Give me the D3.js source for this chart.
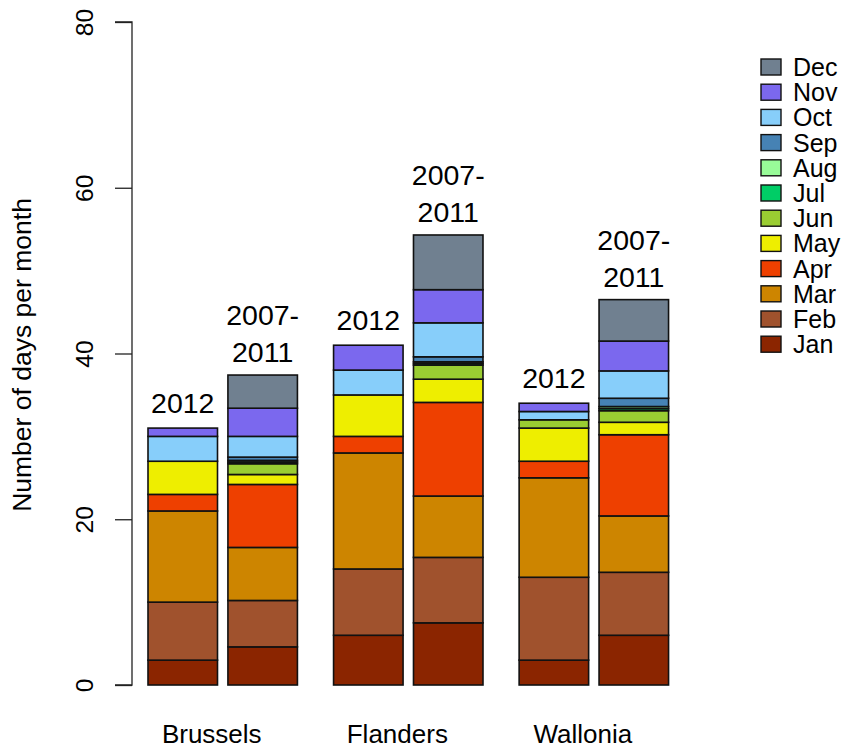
<!DOCTYPE html>
<html><head><meta charset="utf-8">
<script src="https://cdn.jsdelivr.net/npm/d3@7"></script>
<style>body{margin:0;background:#fff;} svg{display:block;font-family:"Liberation Sans",Arial,sans-serif;}</style>
</head><body>
<svg id="c" width="844" height="752"></svg>
<script>
const regions = ["Brussels", "Flanders", "Wallonia"];
const periods = ["2012", "2007-2011"];
const months = ["Jan","Feb","Mar","Apr","May","Jun","Jul","Aug","Sep","Oct","Nov","Dec"];
const monthColors = ["#8B2500","#A0522D","#CD8500","#EE4000","#EEEE00","#9ACD32","#00CD66","#98FB98","#4682B4","#87CEFA","#7B68EE","#708090"];
// days per month, Jan..Dec
const brussels2012 = [3, 7, 11, 2, 4, 0, 0, 0, 0, 3, 1, 0];
const brussels0711 = [4.6, 5.6, 6.4, 7.6, 1.2, 1.3, 0.2, 0.2, 0.4, 2.5, 3.4, 4.0];
const flanders2012 = [6, 8, 14, 2, 5, 0, 0, 0, 0, 3, 3, 0];
const flanders0711 = [7.5, 7.9, 7.4, 11.3, 2.8, 1.7, 0.2, 0.2, 0.6, 4.1, 4.0, 6.6];
const wallonia2012 = [3, 10, 12, 2, 4, 1, 0, 0, 0, 1, 1, 0];
const wallonia0711 = [6.0, 7.6, 6.8, 9.8, 1.5, 1.4, 0.25, 0.25, 1.0, 3.3, 3.6, 5.0];
const yTicks = [0, 20, 40, 60, 80];

const series = [
  {region:0, period:0, values:brussels2012},
  {region:0, period:1, values:brussels0711},
  {region:1, period:0, values:flanders2012},
  {region:1, period:1, values:flanders0711},
  {region:2, period:0, values:wallonia2012},
  {region:2, period:1, values:wallonia0711}
];

const svg = d3.select("#c");
const y = d3.scaleLinear().domain([0, 80]).range([685, 22]);
// x in bar-width units
const x = d3.scaleLinear().domain([0, 1]).range([148, 217.5]);
const groupPitch = 2.67, periodPitch = 1.15;
const barStart = s => s.region * groupPitch + s.period * periodPitch;

// bars
series.forEach(s => {
  let cum = 0;
  const segs = s.values.map((v, i) => { const o = {y0: cum, y1: cum + v, i}; cum += v; return o; });
  const g = svg.append("g");
  g.selectAll("rect").data(segs.filter(d => d.y1 > d.y0)).join("rect")
    .attr("x", x(barStart(s)))
    .attr("width", x(barStart(s) + 1) - x(barStart(s)))
    .attr("y", d => y(d.y1))
    .attr("height", d => y(d.y0) - y(d.y1))
    .attr("fill", d => monthColors[d.i])
    .attr("stroke", "#111").attr("stroke-width", 1.6);
  const cx = x(barStart(s) + 0.5);
  const top = y(cum);
  if (s.period === 0) {
    svg.append("text").attr("x", cx).attr("y", top - 15).attr("text-anchor", "middle")
      .attr("font-size", 28.5).text(periods[0]);
  } else {
    const parts = ["2007-", "2011"];
    svg.append("text").attr("x", cx).attr("y", top - 50).attr("text-anchor", "middle")
      .attr("font-size", 28.5).text(parts[0]);
    svg.append("text").attr("x", cx).attr("y", top - 13).attr("text-anchor", "middle")
      .attr("font-size", 28.5).text(parts[1]);
  }
});

// region labels
regions.forEach((r, i) => {
  svg.append("text").attr("x", x(i * groupPitch + 0.5) + 29).attr("y", 743)
    .attr("text-anchor", "middle").attr("font-size", 26).text(r);
});

// y axis
const axis = d3.axisLeft(y).tickValues(yTicks).tickSize(17).tickFormat(d3.format("d"));
const ag = svg.append("g").attr("transform", "translate(132,0)").call(axis);
ag.select(".domain").attr("stroke", "#222").attr("stroke-width", 1.3).attr("d", `M-17,${y(0)}H0V${y(80)}H-17`);
ag.selectAll(".tick line").attr("stroke", "#222").attr("stroke-width", 1.3);
ag.selectAll(".tick text").attr("font-size", 24.5).attr("fill", "#000")
  .attr("font-family", "Liberation Sans, Arial, sans-serif")
  .attr("text-anchor", "middle")
  .attr("x", 0).attr("y", 0).attr("dx", null)
  .attr("transform", "translate(-48,0) rotate(-90)").attr("dy", "0.35em");

svg.append("text").attr("transform", "translate(31,355) rotate(-90)")
  .attr("text-anchor", "middle").attr("font-size", 26.5).text("Number of days per month");

// legend
const legendOrder = months.map((m, i) => i).reverse();
const lg = svg.append("g");
legendOrder.forEach((mi, k) => {
  const yy = 67 + k * 25.2;
  lg.append("rect").attr("x", 761).attr("y", yy - 8).attr("width", 20).attr("height", 16)
    .attr("fill", monthColors[mi]).attr("stroke", "#111").attr("stroke-width", 1.4);
  lg.append("text").attr("x", 793).attr("y", yy).attr("dy", "0.36em")
    .attr("font-size", 25).text(months[mi]);
});
</script>
</body></html>
